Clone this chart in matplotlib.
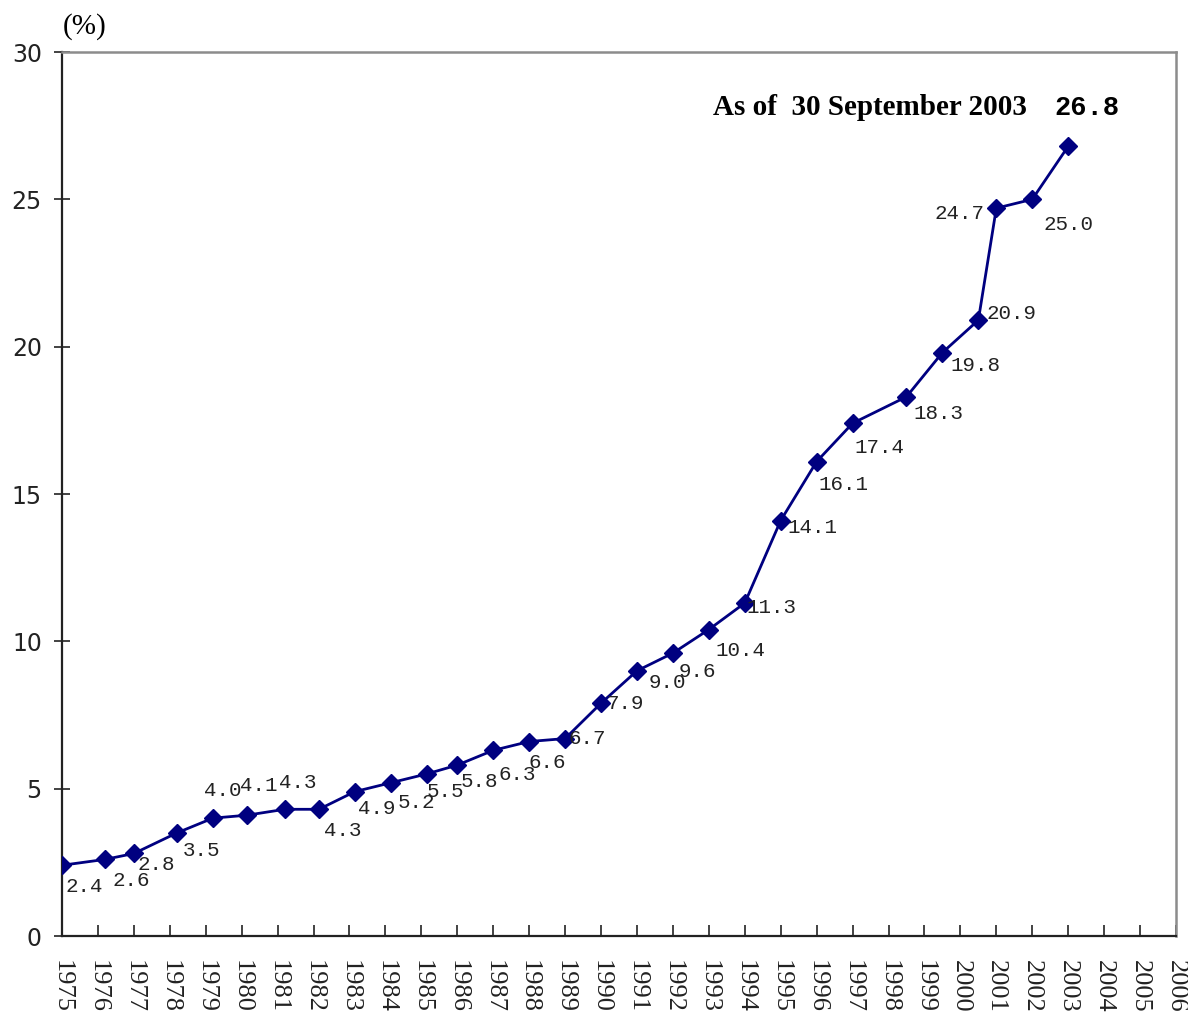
import matplotlib
matplotlib.use("Agg")
import matplotlib.pyplot as plt

# Data (x positions, some points sit between year ticks)
x_pos = [1975.0, 1976.2, 1977.0, 1978.2, 1979.2, 1980.15, 1981.2, 1982.15, 1983.15,
         1984.15, 1985.15, 1986.0, 1987.0, 1988.0, 1989.0, 1990.0, 1991.0, 1992.0,
         1993.0, 1994.0, 1995.0, 1996.0, 1997.0, 1998.5, 1999.5, 2000.5, 2001.0,
         2002.0, 2003.0]
values = [2.4, 2.6, 2.8, 3.5, 4.0, 4.1, 4.3, 4.3, 4.9, 5.2, 5.5, 5.8, 6.3, 6.6, 6.7,
          7.9, 9.0, 9.6, 10.4, 11.3, 14.1, 16.1, 17.4, 18.3, 19.8, 20.9, 24.7, 25.0, 26.8]
years = list(range(1975, 2007))

# label offsets in pixels (dx, dy), dy positive = up
offsets = [(22, -21), (26, -21), (22, -11), (25, -18), (10, 28), (12, 30), (13, 27),
           (24, -21), (22, -17), (26, -20), (19, -18), (22, -16), (24, -24), (18, -21),
           (22, 0), (24, 0), (30, -12), (24, -18), (32, -21), (27, -4), (32, -7),
           (27, -23), (27, -24), (32, -17), (33, -13), (33, 7), (-37, -5), (36, -25)]

navy = "#000080"

fig = plt.figure(figsize=(11.88, 10.17), dpi=100)
ax = fig.add_axes([62 / 1188, 1 - 936 / 1017, (1176 - 62) / 1188, (936 - 52) / 1017])

ax.plot(x_pos, values, color=navy, lw=2.0, marker="D", ms=9,
        markerfacecolor=navy, markeredgecolor=navy, zorder=3)

for i, (xv, v) in enumerate(zip(x_pos[:-1], values[:-1])):
    dx, dy = offsets[i]
    ax.annotate(f"{v:.1f}", (xv, v), xytext=(dx, dy), textcoords="offset pixels",
                ha="center", va="center", family="Liberation Mono", fontsize=15,
                color="#222222")

# last point, bold
ax.annotate(f"{values[-1]:.1f}", (x_pos[-1], values[-1]), xytext=(19, 38),
            textcoords="offset pixels", ha="center", va="center",
            family="Liberation Mono", fontsize=19.5, fontweight="bold", color="black")
ax.text(0.584, 0.937, "As of  30 September 2003", transform=ax.transAxes,
        family="Liberation Serif", fontsize=21, fontweight="bold", ha="left", va="center")

ax.set_xlim(1975, 2006)
ax.set_ylim(0, 30)
ax.set_xticks(years)
ax.set_xticklabels([str(y) for y in years], rotation=-90, family="Liberation Serif",
                   fontsize=19, va="top", ha="center")
ax.set_yticks([0, 5, 10, 15, 20, 25, 30])
ax.tick_params(axis="y", direction="inout", length=11, width=1.2, labelsize=17, pad=9,
               colors="#222222")
ax.tick_params(axis="x", direction="in", length=8, width=1.2, pad=17, colors="#222222")

for s in ["left", "bottom"]:
    ax.spines[s].set_color("#222222")
    ax.spines[s].set_linewidth(1.6)
for s in ["top", "right"]:
    ax.spines[s].set_color("#8c8c8c")
    ax.spines[s].set_linewidth(1.8)

fig.text(85 / 1188, 1 - 27 / 1017, "(%)", family="Liberation Serif", fontsize=21,
         ha="center", va="center")

fig.savefig("out.png", dpi=100)
